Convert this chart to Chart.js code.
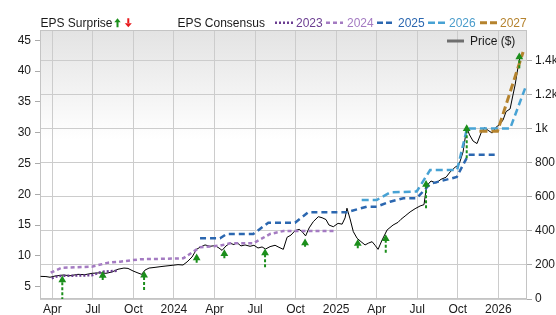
<!DOCTYPE html>
<html>
<head>
<meta charset="utf-8">
<script src="https://cdn.jsdelivr.net/npm/chart.js@4.4.1/dist/chart.umd.min.js"></script>
<style>
  html, body { margin: 0; padding: 0; background: #fff; }
  #wrap { position: relative; width: 556px; height: 315px; font-family: "Liberation Sans", Arial, sans-serif; font-size: 12px; color: #1a1a1a; }
  #wrap canvas { position: absolute; left: 0; top: 0; }
  #keys { position: absolute; left: 0; top: 0; z-index: 2; pointer-events: none; }
  .lg { position: absolute; top: 16px; line-height: 14px; white-space: nowrap; z-index: 3; }
</style>
</head>
<body>
<div id="wrap">
  <canvas id="myChart" width="556" height="315"></canvas>
  <svg id="keys" width="556" height="50">
    <path d="M114.3 22.3 L117.5 18.3 L120.7 22.3 Z M116.5 22 H118.5 V27.3 H116.5 Z" fill="#1b8e1b"/>
    <path d="M124.8 23.3 L128.3 27.3 L131.8 23.3 Z M127.3 18.3 H129.3 V23.6 H127.3 Z" fill="#e8191c"/>
    <line x1="275" y1="22.7" x2="293" y2="22.7" stroke="#6b3d91" stroke-width="2.5" stroke-dasharray="2 2"/>
    <line x1="326" y1="22.7" x2="343" y2="22.7" stroke="#a47bc2" stroke-width="2.5" stroke-dasharray="4 3"/>
    <line x1="377" y1="22.7" x2="395" y2="22.7" stroke="#2b67b0" stroke-width="2.5" stroke-dasharray="6 3"/>
    <line x1="428" y1="22.7" x2="446" y2="22.7" stroke="#47a2d4" stroke-width="2.5" stroke-dasharray="7 3"/>
    <line x1="480" y1="22.7" x2="497" y2="22.7" stroke="#b5832e" stroke-width="3" stroke-dasharray="7 3"/>
    <line x1="447" y1="41" x2="464" y2="41" stroke="#6e6e6e" stroke-width="3"/>
  </svg>
  <span class="lg" style="left:40.5px">EPS Surprise</span>
  <span class="lg" style="left:177.5px">EPS Consensus</span>
  <span class="lg" style="left:296px;color:#6b3d91">2023</span>
  <span class="lg" style="left:347px;color:#a47bc2">2024</span>
  <span class="lg" style="left:398px;color:#2b67b0">2025</span>
  <span class="lg" style="left:449px;color:#4a9ccb">2026</span>
  <span class="lg" style="left:500px;color:#b5832e">2027</span>
  <span class="lg" style="left:470px;top:34px">Price ($)</span>
</div>
<script>
// x values are months counted from Jan 2023 (3 = Apr 2023, 36 = Jan 2026)
const xTicks = [3, 6, 9, 12, 15, 18, 21, 24, 27, 30, 33, 36];
const monthNames = ['Jan', 'Apr', 'Jul', 'Oct'];
const epsTicks = [5, 10, 15, 20, 25, 30, 35, 40, 45];
const priceTicks = [0, 200, 400, 600, 800, 1000, 1200, 1400];

// closing price ($), right axis
const priceData = [
  [2.13,133],[2.53,132],[2.83,128],[3.2,135],[3.81,141],[4.31,137],[4.9,145],[5.42,143],[5.94,151],
  [6.53,154],[6.97,151],[7.42,159],[7.86,175],[8.3,182],[8.6,180],[8.97,165],[9.34,153],[9.61,145],
  [9.86,170],[10.16,182],[10.6,186],[10.97,190],[11.41,194],[11.86,198],[12.3,202],[12.67,200],
  [12.97,218],[13.34,247],[13.67,292],[13.93,304],[14.3,318],[14.67,310],[15.04,314],[15.33,300],
  [15.56,286],[15.85,312],[16.15,328],[16.44,320],[16.67,331],[16.96,312],[17.26,318],[17.63,310],
  [17.92,316],[18.22,300],[18.52,306],[18.78,294],[19.11,308],[19.48,316],[19.77,304],[20.09,292],
  [20.37,363],[20.66,376],[20.96,402],[21.26,410],[21.48,396],[21.74,371],[22.0,418],[22.31,455],
  [22.68,484],[22.96,478],[23.25,467],[23.47,435],[23.79,425],[24.14,445],[24.44,440],[24.66,477],
  [24.8,534],[25.03,471],[25.27,396],[25.55,357],[25.84,337],[26.14,318],[26.4,329],[26.66,337],
  [26.88,316],[27.1,292],[27.4,347],[27.77,406],[28.21,435],[28.58,451],[28.8,469],[29.1,488],
  [29.47,512],[29.84,531],[30.21,547],[30.5,555],[30.69,665],[31.02,694],[31.39,682],[31.76,704],
  [32.13,716],[32.43,747],[32.8,775],[33.09,790],[33.39,865],[33.66,1008],[33.87,965],[34.13,929],
  [34.42,914],[34.72,976],[34.98,1008],[35.24,992],[35.54,976],[35.83,1010],[36.13,1029],[36.35,1053],
  [36.57,1102],[36.87,1118],[37.05,1188],[37.24,1259],[37.42,1347],[37.61,1425],[37.68,1435]
];

// EPS consensus by fiscal year, left axis
const eps2023 = [[2.96,6.36],[3.44,6.74],[5.92,6.85],[6.66,7.43],[7.88,7.6]];
const eps2024 = [[2.88,7.27],[3.7,8.08],[5.92,8.25],[7.14,8.9],[8.01,9.06],[9.49,9.45],[12.69,9.6],
  [13.93,11.4],[15.41,11.66],[16.15,12.05],[17.87,12.05],[19.11,13.55],[20.09,14.04],[23.92,14.04]];
const eps2025 = [[13.93,12.86],[15.41,12.86],[15.9,13.55],[17.87,13.55],[18.98,15.39],[20.96,15.39],
  [21.94,17.08],[24.78,17.08],[26.26,17.99],[27.0,17.99],[27.99,18.8],[28.97,19.35],[29.96,19.35],
  [30.95,21.7],[32.92,22.8],[33.78,26.4],[35.88,26.4]];
const eps2026 = [[25.89,19.07],[27.0,19.07],[27.99,20.3],[29.96,20.45],[30.95,23.94],[32.95,23.94],
  [33.68,30.68],[36.87,30.68],[37.98,37.2]];
const eps2027 = [[34.6,30.25],[35.94,30.25],[37.83,43.1]];

// EPS surprises: [month, from, to]
const surprises = [
  [3.74,2.0,6.1],[6.73,6.09,6.8],[9.79,4.46,6.85],[13.68,8.9,9.65],[15.73,9.61,10.35],
  [18.74,8.15,10.45],[21.7,11.49,12.1],[25.6,11.23,12.0],[27.67,10.52,12.8],
  [30.65,17.73,21.6],[33.66,25.84,30.65],[37.55,40.45,42.3]
];

const pts = arr => arr.map(p => ({ x: p[0], y: p[1] }));

var arrowPts = [];
surprises.forEach(s => {
  arrowPts.push({ x: s[0], y: s[1] }, { x: s[0], y: s[2] }, { x: s[0], y: null });
});

function epsLine(data, color, dash, width) {
  return {
    data: pts(data),
    yAxisID: 'y',
    borderColor: color,
    borderWidth: width || 2.5,
    borderDash: dash,
    pointRadius: 0,
    fill: false,
    tension: 0
  };
}

const bgPlugin = {
  id: 'bg',
  beforeDraw(chart) {
    const { ctx, chartArea: a } = chart;
    const g = ctx.createLinearGradient(0, a.top, 0, a.top + 110);
    g.addColorStop(0, '#e3e3e3');
    g.addColorStop(1, '#ffffff');
    ctx.save();
    ctx.fillStyle = g;
    ctx.fillRect(a.left, a.top, a.right - a.left, a.bottom - a.top);
    ctx.restore();
  },
  beforeDatasetsDraw(chart) {
    const { ctx, chartArea: a } = chart;
    ctx.save();
    ctx.strokeStyle = '#c4c4c4';
    ctx.lineWidth = 1;
    ctx.strokeRect(a.left + 0.5, a.top + 0.5, a.right - a.left - 1, a.bottom - a.top - 1);
    ctx.restore();
  }
};

Chart.defaults.font.family = '"Liberation Sans", Arial, sans-serif';
Chart.defaults.font.size = 12;
Chart.defaults.color = '#1a1a1a';

const ctx = document.getElementById('myChart').getContext('2d');
const myChart = new Chart(ctx, {
  type: 'line',
  data: {
    datasets: [
      {
        data: arrowPts,
        yAxisID: 'y',
        borderColor: '#1b8e1b',
        borderWidth: 2,
        borderDash: [3, 2],
        spanGaps: false,
        pointStyle: 'triangle',
        pointRadius: c => (c.dataIndex % 3 === 1 ? 4.5 : 0),
        pointBackgroundColor: '#1b8e1b',
        pointBorderColor: '#1b8e1b',
        pointBorderWidth: 0
      },
      epsLine(eps2027, '#b5832e', [8, 4], 3),
      epsLine(eps2026, '#47a2d4', [7, 4]),
      epsLine(eps2025, '#2b67b0', [6, 4]),
      epsLine(eps2024, '#a47bc2', [4, 3]),
      epsLine(eps2023, '#6b3d91', [2, 2]),
      {
        data: pts(priceData),
        yAxisID: 'y1',
        borderColor: '#000000',
        borderWidth: 1,
        pointRadius: 0,
        tension: 0
      }
    ]
  },
  options: {
    animation: false,
    responsive: false,
    layout: { padding: { top: 30, left: 0, right: 0, bottom: 0 } },
    plugins: { legend: { display: false }, tooltip: { enabled: false } },
    scales: {
      x: {
        type: 'linear',
        min: 2.09,
        max: 38.12,
        afterBuildTicks: s => { s.ticks = xTicks.map(v => ({ value: v })); },
        afterFit: s => { s.height = 16; },
        ticks: {
          padding: 3,
          maxRotation: 0,
          autoSkip: false,
          callback: v => (v % 12 === 0 ? String(2023 + v / 12) : monthNames[(v % 12) / 3])
        },
        grid: { color: '#cccccc', drawTicks: false },
        border: { display: false }
      },
      y: {
        position: 'left',
        min: 3.0,
        max: 46.67,
        afterBuildTicks: s => { s.ticks = epsTicks.map(v => ({ value: v })); },
        afterFit: s => { s.width = 40; },
        ticks: { padding: 4 },
        grid: { drawOnChartArea: false, tickLength: 5, tickColor: '#aaaaaa' },
        border: { display: false }
      },
      y1: {
        position: 'right',
        min: 0,
        max: 1582,
        afterBuildTicks: s => { s.ticks = priceTicks.map(v => ({ value: v })); },
        afterFit: s => { s.width = 29; },
        ticks: {
          padding: 3,
          callback: v => (v >= 1000 ? (v / 1000) + 'k' : String(v))
        },
        grid: { color: '#cccccc', tickLength: 5, tickColor: '#aaaaaa' },
        border: { display: false }
      }
    }
  },
  plugins: [bgPlugin]
});
</script>
</body>
</html>
